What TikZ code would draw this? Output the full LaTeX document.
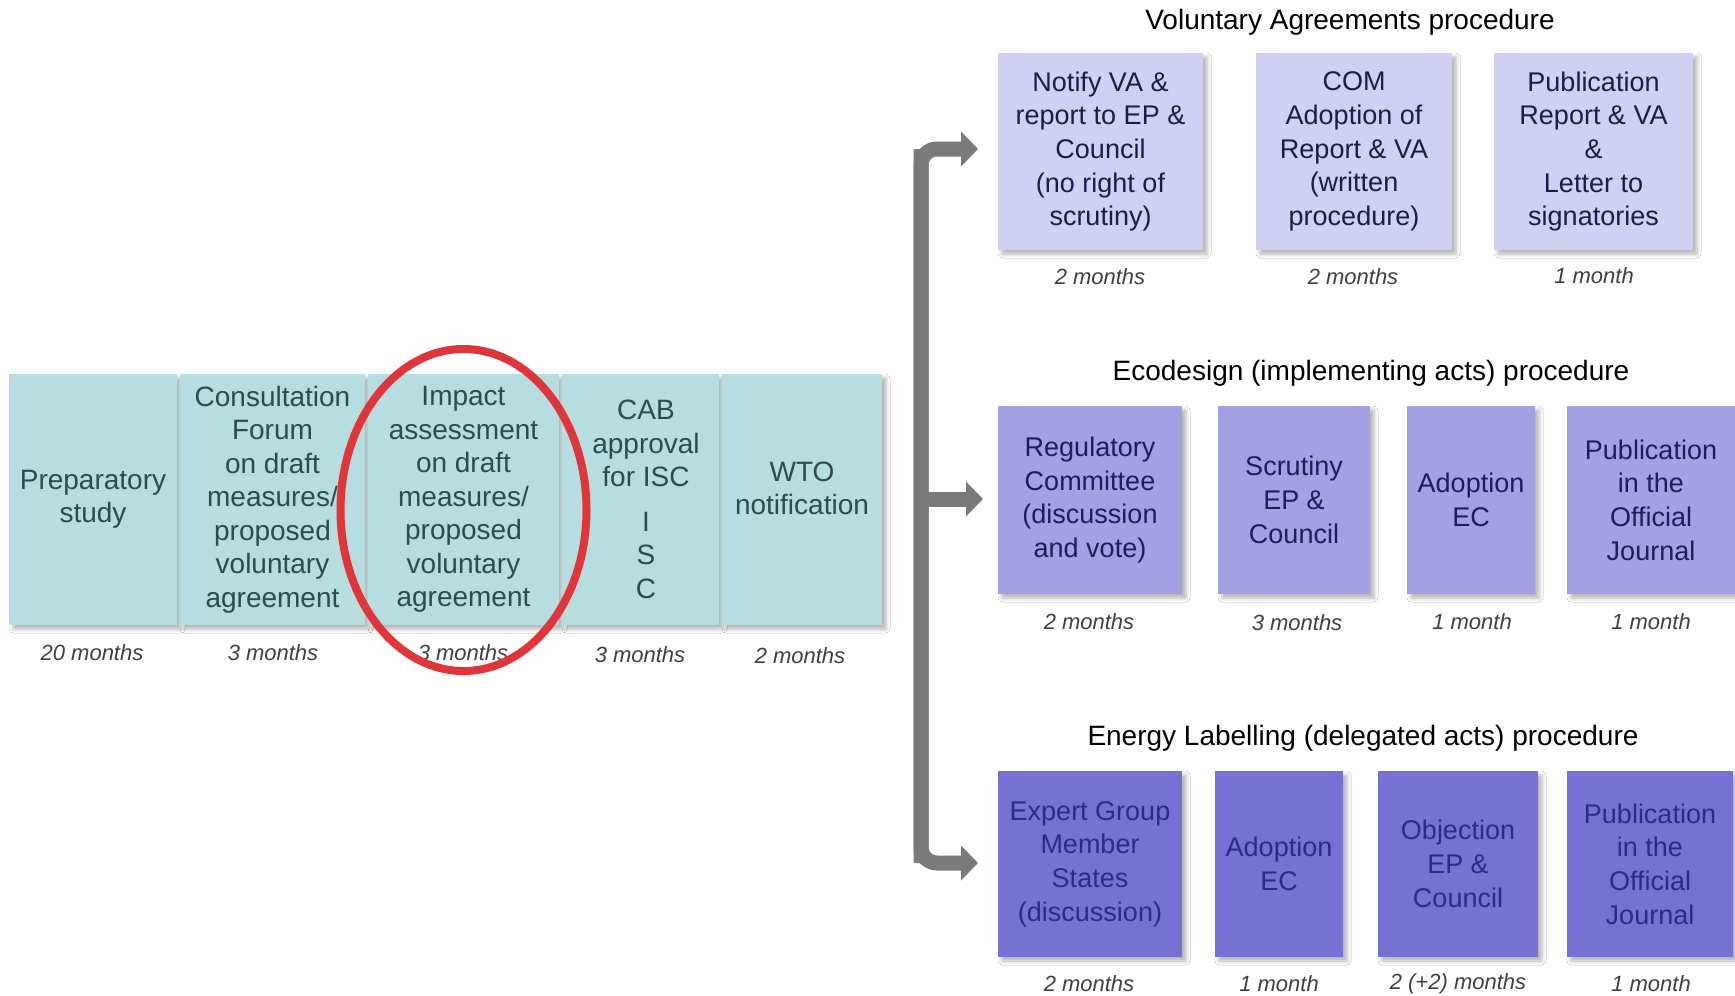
\documentclass[tikz,border=0pt]{standalone}
\usepackage{fontspec}
\setmainfont{Liberation Sans}
\usetikzlibrary{shapes.geometric,shadows.blur,arrows.meta}
\definecolor{lfill}{HTML}{B6DDE0}
\definecolor{ltext}{HTML}{2E4B4F}
\definecolor{vafill}{HTML}{D0D0F2}
\definecolor{vatext}{HTML}{1C1C4C}
\definecolor{ecofill}{HTML}{A3A1E2}
\definecolor{ecotext}{HTML}{1E1E58}
\definecolor{enfill}{HTML}{7672D4}
\definecolor{entext}{HTML}{2E2A8A}
\definecolor{durtext}{HTML}{404040}
\definecolor{arrowgray}{HTML}{7A7A7A}
\definecolor{ringred}{HTML}{E0353A}
\begin{document}
\begin{tikzpicture}[x=1pt,y=-1pt,
  stepbox/.style={rectangle, inner sep=0pt, align=center,
    blur shadow={shadow xshift=4pt, shadow yshift=-4pt, shadow blur radius=4pt, shadow opacity=30}},
  lbox/.style={stepbox, fill=lfill, text=ltext, minimum height=251pt, font=\fontsize{28}{33.5}\selectfont},
  ltxt/.style={inner sep=0pt, align=center, text=ltext, font=\fontsize{28}{33.5}\selectfont},
  vabox/.style={stepbox, fill=vafill, text=vatext, minimum height=197pt, font=\fontsize{27}{33.7}\selectfont},
  ecobox/.style={stepbox, fill=ecofill, text=ecotext, minimum height=188pt, font=\fontsize{27}{33.7}\selectfont},
  enbox/.style={stepbox, fill=enfill, text=entext, minimum height=186pt, font=\fontsize{27}{33.7}\selectfont},
  dur/.style={inner sep=0pt, text=durtext, font=\fontsize{22}{26}\selectfont\itshape},
  ttl/.style={inner sep=0pt, text=black, font=\fontsize{28}{32}\selectfont},
  garrow/.style={draw=arrowgray, line width=15pt, rounded corners=16pt,
    arrows={-Triangle[length=17pt,width=34pt]}},
  ring/.style={ellipse, draw=ringred, line width=8pt, inner sep=0pt, minimum width=246pt, minimum height=322pt}
]
\useasboundingbox (0,0) rectangle (1735,996);
\fill[white] (0,0) rectangle (1735,996);

% left row
\node[lbox, minimum width=168pt] (prep) at (93,499.5) {Preparatory\\study};
\node[lbox, minimum width=185pt] (cons) at (272.5,499.5) {Consultation\\Forum\\on draft\\measures/\\proposed\\voluntary\\agreement};
\node[lbox, minimum width=191pt] (impact) at (463.5,499.5) {Impact\\assessment\\on draft\\measures/\\proposed\\voluntary\\agreement};
\node[lbox, minimum width=157pt] (cab) at (640.5,499.5) {};
\node[ltxt] (cabt) at (646,499.5) {CAB\\approval\\for ISC\\[11pt]I\\S\\C};
\node[lbox, minimum width=160pt] (wto) at (802,499.5) {};
\node[ltxt] (wtot) at (802,488.5) {WTO\\notification};

\node[dur] (dprep) at (92,653) {20 months};
\node[dur] (dcons) at (273,653) {3 months};
\node[dur] (dimp) at (463,653) {3 months};
\node[dur] (dcab) at (640,655) {3 months};
\node[dur] (dwto) at (800,656) {2 months};

\node[ring] (circ) at (463.5,510) {};

% arrows
\coordinate (vtop) at (921,149);
\coordinate (vbot) at (921,863);
\coordinate (vmid) at (921,499);
\coordinate (tipA) at (978,149);
\coordinate (tipB) at (983,499);
\coordinate (tipC) at (978,863);
\draw[garrow] (vbot) -- (vtop) -- (tipA);
\draw[garrow] (vtop) -- (vbot) -- (tipC);
\draw[garrow, rounded corners=0pt] (vmid) -- (tipB);

% Voluntary agreements
\node[ttl] (vat) at (1350,22) {Voluntary Agreements procedure};
\node[vabox, minimum width=205pt] (va1) at (1100.5,151.5) {Notify VA \&\\report to EP \&\\Council\\(no right of\\scrutiny)};
\node[vabox, minimum width=196pt] (va2) at (1354,151.5) {COM\\Adoption of\\Report \& VA\\(written\\procedure)};
\node[vabox, minimum width=199pt] (va3) at (1593.5,151.5) {Publication\\Report \& VA\\\&\\Letter to\\signatories};
\node[dur] (dva1) at (1100,277) {2 months};
\node[dur] (dva2) at (1353,277) {2 months};
\node[dur] (dva3) at (1594,276) {1 month};

% Ecodesign
\node[ttl] (ecot) at (1371,373) {Ecodesign (implementing acts) procedure};
\node[ecobox, minimum width=184pt] (eco1) at (1090,500) {Regulatory\\Committee\\(discussion\\and vote)};
\node[ecobox, minimum width=152pt] (eco2) at (1294,500) {Scrutiny\\EP \&\\Council};
\node[ecobox, minimum width=128pt] (eco3) at (1471,500) {Adoption\\EC};
\node[ecobox, minimum width=168pt] (eco4) at (1651,500) {Publication\\in the\\Official\\Journal};
\node[dur] (deco1) at (1089,622) {2 months};
\node[dur] (deco2) at (1297,623) {3 months};
\node[dur] (deco3) at (1472,622) {1 month};
\node[dur] (deco4) at (1651,622) {1 month};

% Energy labelling
\node[ttl] (ent) at (1363,738) {Energy Labelling (delegated acts) procedure};
\node[enbox, minimum width=184pt] (en1) at (1090,864) {Expert Group\\Member\\States\\(discussion)};
\node[enbox, minimum width=128pt] (en2) at (1279,864) {Adoption\\EC};
\node[enbox, minimum width=160pt] (en3) at (1458,864) {Objection\\EP \&\\Council};
\node[enbox, minimum width=166pt] (en4) at (1650,864) {Publication\\in the\\Official\\Journal};
\node[dur] (den1) at (1089,984) {2 months};
\node[dur] (den2) at (1279,984) {1 month};
\node[dur] (den3) at (1458,984) {2 (+2) months};
\node[dur] (den4) at (1651,984) {1 month};
\end{tikzpicture}
\end{document}
